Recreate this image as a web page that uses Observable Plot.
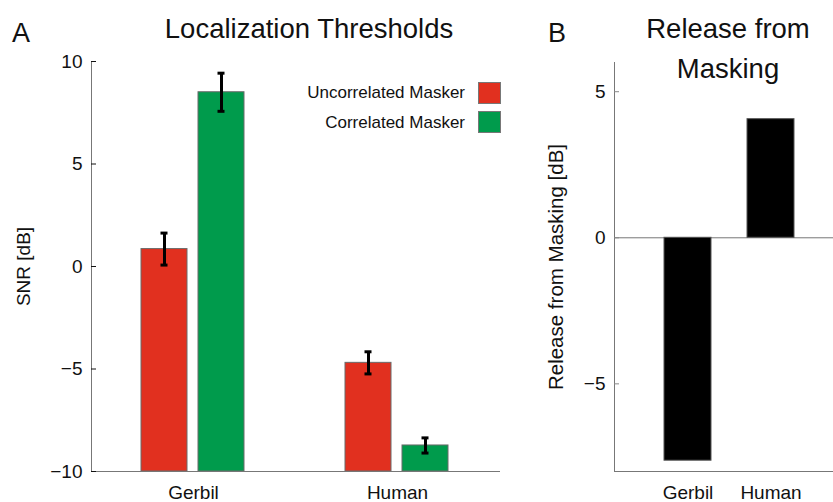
<!DOCTYPE html>
<html><head><meta charset="utf-8">
<script src="https://cdn.jsdelivr.net/npm/d3@7"></script>
<script src="https://cdn.jsdelivr.net/npm/@observablehq/plot@0.6"></script>
<style>
body{margin:0;background:#fff;}
#wrap{position:relative;width:833px;height:502px;overflow:hidden;font-family:"Liberation Sans",Arial,sans-serif;color:#111;}
.abs{position:absolute;white-space:nowrap;line-height:1;}
#pa,#pb{position:absolute;top:0;}
#pa{left:0;width:520px;}
#pb{left:520px;width:340px;}
#pa svg,#pb svg{max-width:none !important;}
svg [aria-label="y-axis tick"]{stroke:#888;}
#pb [aria-label="y-axis label"]{font-size:20.5px;}
.sw{position:absolute;width:21px;height:20px;border:1px solid #777;box-sizing:content-box;}
</style></head>
<body><div id="wrap">
<div id="pa"></div><div id="pb"></div>
<div class="abs" style="left:12px;top:20px;font-size:27px;">A</div>
<div class="abs" style="left:548px;top:20px;font-size:27px;">B</div>
<div class="abs" style="left:309px;top:15px;font-size:27.5px;transform:translateX(-50%);">Localization Thresholds</div>
<div class="abs" style="left:728px;top:15px;font-size:27.5px;transform:translateX(-50%);">Release from</div>
<div class="abs" style="left:728px;top:55px;font-size:27.5px;transform:translateX(-50%);">Masking</div>
<div id="legend"></div>
</div>
<script>
// ---- data ----
const species = ["Gerbil", "Human"];
const maskers = ["Uncorrelated Masker", "Correlated Masker"];
const maskerColors = ["#e1301f", "#009b4c"];
const snrUncorrelated = [0.85, -4.7];
const snrCorrelated = [8.5, -8.73];
const errUncorrelated = [0.78, 0.54];
const errCorrelated = [0.93, 0.37];
const releaseFromMasking = [-7.63, 4.06];
const yDomainA = [-10, 10];
const yTicksA = [-10, -5, 0, 5, 10];
const yDomainB = [-8, 6];
const yTicksB = [-5, 0, 5];

const FONT = '"Liberation Sans", Arial, sans-serif';

const rows = species.flatMap((s, i) => [
  {species: s, masker: maskers[0], snr: snrUncorrelated[i], err: errUncorrelated[i]},
  {species: s, masker: maskers[1], snr: snrCorrelated[i], err: errCorrelated[i]}
]);
const relRows = species.map((s, i) => ({species: s, release: releaseFromMasking[i]}));

const plotA = Plot.plot({
  width: 520, height: 502,
  marginTop: 61, marginBottom: 31, marginLeft: 90, marginRight: 21,
  style: {fontFamily: FONT, fontSize: "19px", background: "transparent", color: "#111"},
  fx: {domain: species, padding: 0, label: null},
  x: {domain: maskers, paddingInner: 0.19, paddingOuter: 0.858, axis: null},
  y: {domain: yDomainA, axis: null},
  color: {domain: maskers, range: maskerColors},
  marks: [
    Plot.barY(rows, {fx: "species", x: "masker", y1: yDomainA[0], y2: "snr", fill: "masker", stroke: "#6a6a6a", strokeWidth: 1}),
    Plot.ruleX(rows, {fx: "species", x: "masker", y1: d => d.snr - d.err, y2: d => d.snr + d.err, stroke: "#000", strokeWidth: 3}),
    Plot.tickY(rows, {fx: "species", x: "masker", y: d => d.snr - d.err, stroke: "#000", strokeWidth: 3, insetLeft: 19.5, insetRight: 19.5}),
    Plot.tickY(rows, {fx: "species", x: "masker", y: d => d.snr + d.err, stroke: "#000", strokeWidth: 3, insetLeft: 19.5, insetRight: 19.5}),
    Plot.frame({anchor: "left", facet: "super", stroke: "#777"}),
    Plot.frame({anchor: "bottom", facet: "super", stroke: "#777"}),
    Plot.axisY({ticks: yTicksA, tickSize: -5, tickPadding: 14, fontSize: 19, label: "SNR [dB]", labelArrow: "none", labelAnchor: "center", labelOffset: 75}),
    Plot.axisFx({anchor: "bottom", tickSize: 0, tickPadding: 13.5, fontSize: 19, label: null})
  ]
});
document.getElementById("pa").appendChild(plotA);

const plotB = Plot.plot({
  width: 340, height: 502,
  marginTop: 62, marginBottom: 31, marginLeft: 94, marginRight: 16,
  style: {fontFamily: FONT, fontSize: "19px", background: "transparent", color: "#111"},
  x: {domain: species, paddingInner: 0.434, paddingOuter: 0.602, axis: null},
  y: {domain: yDomainB, axis: null},
  marks: [
    Plot.ruleY([0], {stroke: "#777"}),
    Plot.barY(relRows, {x: "species", y: "release", fill: "#000", stroke: "#555", strokeWidth: 1}),
    Plot.frame({anchor: "left", stroke: "#777"}),
    Plot.frame({anchor: "bottom", stroke: "#777"}),
    Plot.axisY({ticks: yTicksB, tickSize: -5, tickPadding: 14, fontSize: 19, label: "Release from Masking [dB]", labelArrow: "none", labelAnchor: "center", labelOffset: 66}),
    Plot.axisX({anchor: "bottom", tickSize: 0, tickPadding: 13.5, fontSize: 19, label: null})
  ]
});
document.getElementById("pb").appendChild(plotB);

// legend
const legend = document.getElementById("legend");
maskers.forEach((m, i) => {
  const t = document.createElement("div");
  t.className = "abs";
  t.style.cssText = `right:${833 - 465}px;top:${84 + i * 30}px;font-size:17px;`;
  t.textContent = m;
  legend.appendChild(t);
  const s = document.createElement("div");
  s.className = "sw";
  s.style.cssText = `left:478px;top:${82 + i * 29}px;background:${maskerColors[i]};`;
  legend.appendChild(s);
});
</script>
</body></html>
